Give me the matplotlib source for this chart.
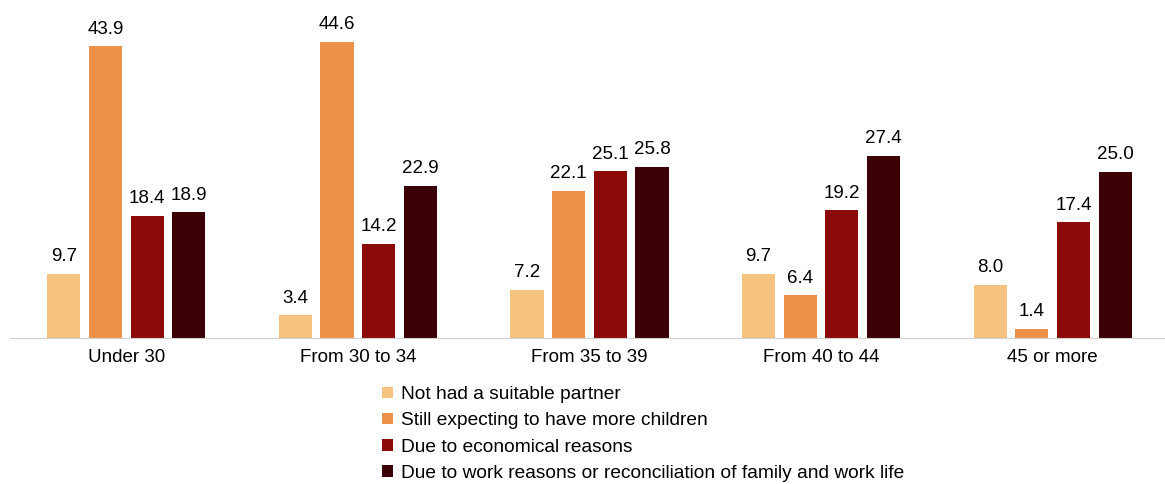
import numpy as np
import matplotlib.pyplot as plt

plt.rcParams['font.family'] = ['Liberation Sans', 'DejaVu Sans']

# age groups and reasons
age_groups = ["Under 30", "From 30 to 34", "From 35 to 39", "From 40 to 44", "45 or more"]
reasons = [
    "Not had a suitable partner",
    "Still expecting to have more children",
    "Due to economical reasons",
    "Due to work reasons or reconciliation of family and work life",
]
no_partner = [9.7, 3.4, 7.2, 9.7, 8.0]
expecting = [43.9, 44.6, 22.1, 6.4, 1.4]
economical = [18.4, 14.2, 25.1, 19.2, 17.4]
work_life = [18.9, 22.9, 25.8, 27.4, 25.0]

colors = ["#F5C27F", "#EC914A", "#8B0A0A", "#3A0005"]

fig = plt.figure(figsize=(11.65, 4.84), dpi=100)
ax = fig.add_axes([0.009, 0.3017, 0.994, 0.655])

x = np.arange(len(age_groups))
step = 0.18
width = 0.143
series = [no_partner, expecting, economical, work_life]
for i, (vals, lab, col) in enumerate(zip(series, reasons, colors)):
    pos = x + (i - 1.5) * step
    bars = ax.bar(pos, vals, width, color=col, label=lab)
    for b, v in zip(bars, vals):
        ax.text(b.get_x() + b.get_width() / 2, v + 1.3, f"{v:.1f}",
                ha="center", va="bottom", fontsize=13.5, color="#000000")

ax.set_xlim(-0.5, len(age_groups) - 0.5)
ax.set_ylim(0, 47.7)
ax.set_xticks(x)
ax.set_xticklabels(age_groups, fontsize=13.5)
ax.tick_params(axis="x", length=0, pad=8)
ax.set_yticks([])
for s in ["top", "right", "left"]:
    ax.spines[s].set_visible(False)
ax.spines["bottom"].set_color("#D0D0D0")

ax.legend(loc="upper left", bbox_to_anchor=(0.3145, -0.128), frameon=False,
          fontsize=13.8, handlelength=0.55, handleheight=0.55, handletextpad=0.4,
          labelspacing=0.48, borderaxespad=0)

plt.savefig("out.png", dpi=100)
